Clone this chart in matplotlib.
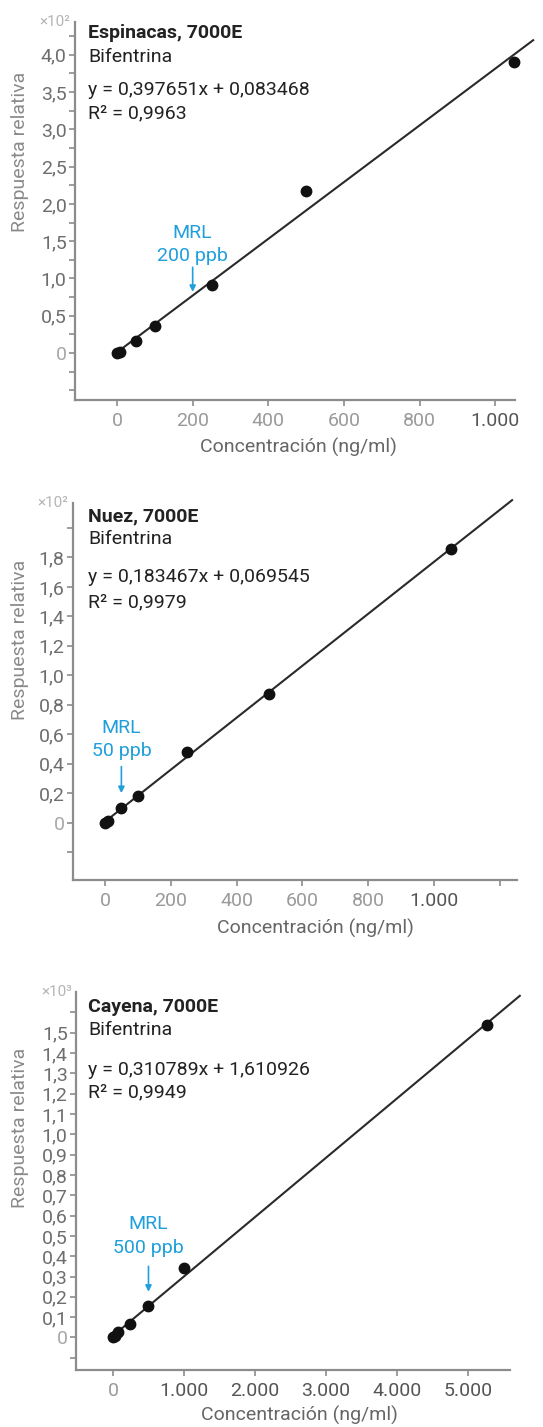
import numpy as np
import matplotlib
matplotlib.use('Agg')
import matplotlib.pyplot as plt

plt.rcParams['font.family'] = ['Roboto', 'DejaVu Sans']

# Datos (respuesta relativa en unidades del eje)
esp_x = [0, 8, 50, 100, 250, 500, 1050]
esp_y = [0.0, 0.02, 0.16, 0.36, 0.91, 2.17, 3.90]

nuez_x = [0, 10, 50, 100, 250, 500, 1050]
nuez_y = [0.0, 0.01, 0.10, 0.18, 0.48, 0.87, 1.86]

cay_x = [0, 25, 75, 240, 500, 1000, 5270]
cay_y = [0.0, 0.006, 0.027, 0.067, 0.155, 0.34, 1.54]

titles = ['Espinacas, 7000E', 'Nuez, 7000E', 'Cayena, 7000E']
compound = 'Bifentrina'
equations = ['y = 0,397651x + 0,083468', 'y = 0,183467x + 0,069545',
             'y = 0,310789x + 1,610926']
r2_values = ['0,9963', '0,9979', '0,9949']
exponents = ['²', '²', '³']
mrl_values = [200, 50, 500]
mrl_labels = ['200 ppb', '50 ppb', '500 ppb']

x_ticks = [[0, 200, 400, 600, 800, 1000],
           [0, 200, 400, 600, 800, 1000, 1200],
           [0, 1000, 2000, 3000, 4000, 5000]]
x_tick_labels = [['0', '200', '400', '600', '800', '1.000'],
                 ['0', '200', '400', '600', '800', '1.000', ''],
                 ['0', '1.000', '2.000', '3.000', '4.000', '5.000']]

W, H = 543, 1427
BLUE = '#1f9fdb'
GRAY = '#8c8c8c'
FS = 14

# cajas de los ejes en píxeles (izq, arriba, der, abajo)
boxes = [(75, 22, 515, 400), (73, 503, 517, 880), (76, 992, 510, 1370)]
xlims = [(-111, 1052), (-97, 1252), (-521, 5592)]
ylims = [(-0.63, 4.44), (-0.39, 2.17), (-0.16, 1.70)]
ystep = [0.25, 0.2, 0.1]
ylab_step = [0.5, 0.2, 0.1]
ymax_lab = [4.0, 1.8, 1.5]
line_end = [1100, 1237, 5730]
# flecha MRL: punta, cola, línea base del texto
mrl_arrow = [(0.82, 1.15, 1.23), (0.20, 0.38, 0.45), (0.225, 0.35, 0.417)]
ylabel_cy = [152, 640, 1128]
xlabel_c = [(298, 447), (315, 928), (299, 1415)]
text_rows = [(0.958, 0.894, 0.807, 0.746), (0.950, 0.891, 0.790, 0.724),
             (0.947, 0.886, 0.780, 0.722)]

fig = plt.figure(figsize=(W / 100, H / 100), dpi=100)

series = [(esp_x, esp_y), (nuez_x, nuez_y), (cay_x, cay_y)]

for i, (xs, ys) in enumerate(series):
    l, t, r, b = boxes[i]
    ax = fig.add_axes([l / W, 1 - b / H, (r - l) / W, (b - t) / H])
    ax.set_xlim(*xlims[i])
    ax.set_ylim(*ylims[i])
    for s in ['top', 'right']:
        ax.spines[s].set_visible(False)
    for s in ['left', 'bottom']:
        ax.spines[s].set_color(GRAY)
        ax.spines[s].set_linewidth(1.6)

    # recta de calibración
    m, c = np.polyfit(xs, ys, 1)
    xl = np.array([0, line_end[i]])
    ax.plot(xl, m * xl + c, color='#2a2a2a', lw=1.5, clip_on=False, zorder=2)
    ax.plot(xs, ys, 'o', color='#111111', ms=7.5, clip_on=False, zorder=3)

    # ticks
    yt = np.round(np.arange(ylims[i][0] // ystep[i] * ystep[i] + ystep[i], ylims[i][1], ystep[i]), 3)
    ylabels = []
    for v in yt:
        k = v / ylab_step[i]
        if v < 0 or v > ymax_lab[i] + 1e-9 or abs(k - round(k)) > 1e-6:
            ylabels.append('')
        elif abs(v) < 1e-9:
            ylabels.append('0')
        else:
            ylabels.append(f'{v:.1f}'.replace('.', ','))
    ax.set_yticks(yt)
    ax.set_yticklabels(ylabels)
    ax.set_xticks(x_ticks[i])
    ax.set_xticklabels(x_tick_labels[i])
    ax.tick_params(axis='both', color=GRAY, length=4, width=1.2, labelsize=FS)
    ax.tick_params(axis='y', pad=2, labelcolor='#6e6e6e')
    ax.tick_params(axis='x', pad=5, labelcolor='#9a9a9a')
    for lab in ax.get_xticklabels():
        if '.' in lab.get_text():
            lab.set_color('#555555')
    for lab in ax.get_yticklabels():
        if lab.get_text() == '0':
            lab.set_color('#a8a8a8')

    # textos
    rows = text_rows[i]
    tx = (88 - l) / (r - l)
    ax.text(tx, rows[0], titles[i], transform=ax.transAxes, fontsize=FS,
            fontweight='bold', color='#222222', va='baseline')
    ax.text(tx, rows[1], compound, transform=ax.transAxes, fontsize=FS,
            color='#222222', va='baseline')
    ax.text(tx, rows[2], equations[i], transform=ax.transAxes, fontsize=FS,
            color='#222222', va='baseline')
    ax.text(tx, rows[3], 'R² = ' + r2_values[i], transform=ax.transAxes,
            fontsize=FS, color='#222222', va='baseline')

    ax.text(-0.01, 1.0, '×10' + exponents[i], transform=ax.transAxes,
            fontsize=11, color='#b5b5b5', ha='right', va='center')

    # MRL
    tip, tail, base = mrl_arrow[i]
    xm = mrl_values[i]
    ax.annotate('', xy=(xm, tip), xytext=(xm, tail),
                arrowprops=dict(arrowstyle='-|>', color=BLUE, lw=1.2,
                                mutation_scale=9, shrinkA=0, shrinkB=0))
    ax.text(xm, base, mrl_labels[i], color=BLUE, fontsize=FS, ha='center',
            va='baseline')
    ax.annotate('MRL', xy=(xm, base), xytext=(0, 17), textcoords='offset points',
                color=BLUE, fontsize=FS, ha='center', va='baseline')

    fig.text(20 / W, 1 - ylabel_cy[i] / H, 'Respuesta relativa', rotation=90,
             fontsize=FS, color='#8a8a8a', ha='center', va='center')
    fig.text(xlabel_c[i][0] / W, 1 - xlabel_c[i][1] / H, 'Concentración (ng/ml)',
             fontsize=FS, color='#666666', ha='center', va='center')

fig.savefig('out.png', dpi=100)
